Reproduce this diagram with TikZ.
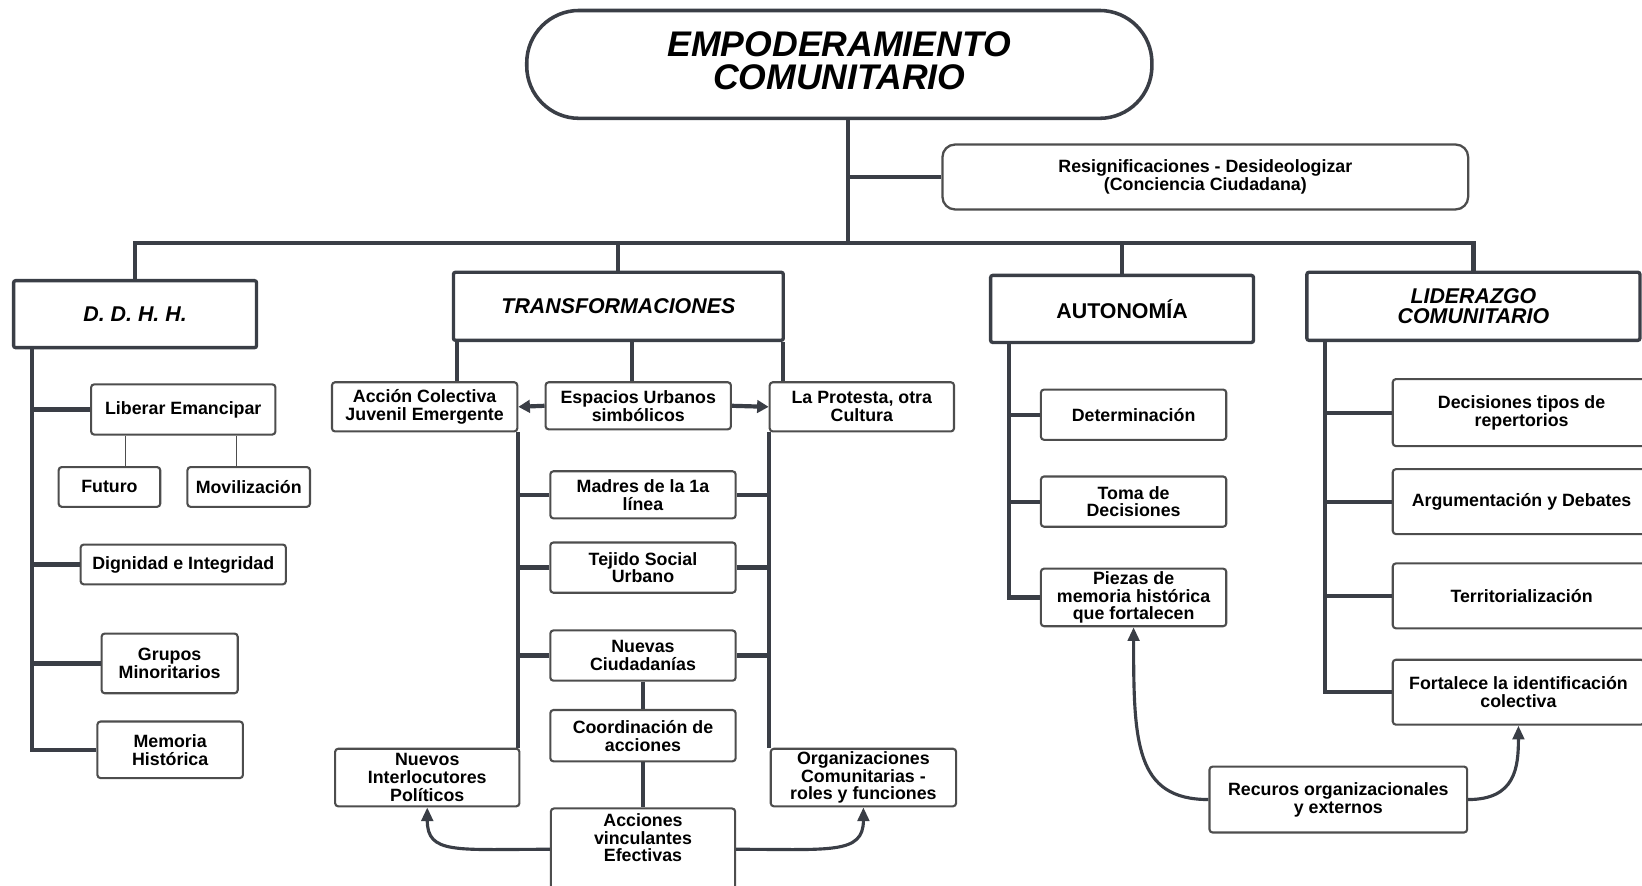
\documentclass[tikz,border=0pt]{standalone}
\usepackage{fontspec}
\setmainfont{Liberation Sans}
\usetikzlibrary{shapes,arrows,arrows.meta,positioning}
\definecolor{linecol}{HTML}{3A3E46}
\definecolor{boxcol}{HTML}{4D4D4D}
\newcommand{\leaffont}{\fontsize{8.5}{8.5}\selectfont\bfseries}
\newcommand{\headfont}{\fontsize{10.2}{9.6}\selectfont\bfseries}
\newcommand{\rootfont}{\fontsize{17}{16}\selectfont\bfseries\itshape}
\tikzstyle{rootbox} = [draw=linecol, line width=1.7pt, rounded corners=25pt, align=center, font=\rootfont, minimum width=298.5pt, minimum height=51.5pt]
\tikzstyle{notebox} = [draw=boxcol, line width=1.1pt, rounded corners=6pt, align=center, font=\leaffont, minimum width=251pt, minimum height=31pt]
\tikzstyle{headbox} = [draw=linecol, line width=1.6pt, rounded corners=1pt, align=center, font=\headfont, inner sep=0pt]
\tikzstyle{headit} = [headbox, font=\headfont\itshape]
\tikzstyle{leafbox} = [draw=boxcol, line width=1pt, rounded corners=1.5pt, align=center, font=\leaffont, inner sep=0pt]
\tikzstyle{link} = [draw=linecol, line width=2pt]
\tikzstyle{thinlink} = [draw=boxcol, line width=0.6pt]
\tikzstyle{tip} = [-{Triangle[length=5.5pt, width=6pt]}]
\tikzstyle{curvelink} = [draw=linecol, line width=1.5pt, -{Triangle[length=6.5pt, width=5.5pt]}]

\begin{document}
\begin{tikzpicture}[x=0.5pt, y=-0.5pt]
		\useasboundingbox (0,0) rectangle (1568,846);
		
		\node [rootbox] (root) at (801.5,61.5) {EMPODERAMIENTO\\COMUNITARIO\\[-17pt]\strut};
		\node [notebox] (resig) at (1151,169) {Resignificaciones - Desideologizar\\(Conciencia Ciudadana)};
		
		\node [headit, minimum width=116pt, minimum height=32pt] (ddhh) at (129,300) {D. D. H. H.};
		\node [headit, minimum width=157.5pt, minimum height=32.5pt] (transf) at (590.5,292.5) {TRANSFORMACIONES};
		\node [headbox, minimum width=125.5pt, minimum height=32pt] (auto) at (1071.5,295) {AUTONOMÍA};
		\node [headit, minimum width=159pt, minimum height=32.5pt] (lider) at (1407,292.5) {LIDERAZGO\\COMUNITARIO};
		
		\node [leafbox, minimum width=88pt, minimum height=24pt] (liber) at (175,391) {Liberar Emancipar};
		\node [leafbox, minimum width=48.5pt, minimum height=19pt] (futuro) at (104.5,465) {Futuro};
		\node [leafbox, minimum width=58.5pt, minimum height=19pt, right of=futuro, node distance=66.5pt] (movil) {Movilización};
		\node [leafbox, minimum width=98pt, minimum height=19pt] (dign) at (175,539) {Dignidad e Integridad};
		\node [leafbox, minimum width=65pt, minimum height=28.5pt] (grupos) at (162,633.5) {Grupos\\Minoritarios};
		\node [leafbox, minimum width=69.5pt, minimum height=27pt] (memoria) at (162.5,716) {Memoria\\Histórica};
		
		\node [leafbox, minimum width=88.5pt, minimum height=23.5pt] (accion) at (405.5,388.5) {Acción Colectiva\\Juvenil Emergente};
		\node [leafbox, minimum width=88.5pt, minimum height=22.5pt] (espacios) at (609.5,387.5) {Espacios Urbanos\\simbólicos};
		\node [leafbox, minimum width=88pt, minimum height=23.5pt] (protesta) at (823,388.5) {La Protesta, otra\\Cultura};
		\node [leafbox, minimum width=88.5pt, minimum height=22.5pt] (madres) at (614,472.5) {Madres de la 1a\\línea};
		\node [leafbox, minimum width=88.5pt, minimum height=24pt, below of=madres, node distance=34.75pt] (tejido) {Tejido Social\\Urbano};
		\node [leafbox, minimum width=88.5pt, minimum height=24pt, below of=tejido, node distance=42pt] (nuevas) {Nuevas\\Ciudadanías};
		\node [leafbox, minimum width=88.5pt, minimum height=24.5pt, below of=nuevas, node distance=38.25pt] (coord) {Coordinación de\\acciones};
		\node [leafbox, minimum width=88pt, minimum height=39pt] (acc) at (614,811) {Acciones\\vinculantes\\Efectivas\\\strut};
		\node [leafbox, minimum width=88pt, minimum height=27.5pt] (nuevosI) at (408,742.5) {Nuevos\\Interlocutores\\Políticos};
		\node [leafbox, minimum width=88.5pt, minimum height=27.5pt] (organiz) at (824.5,742.5) {Organizaciones\\Comunitarias -\\roles y funciones};
		
		\node [leafbox, minimum width=88.5pt, minimum height=24pt] (deter) at (1082.5,396) {Determinación};
		\node [leafbox, minimum width=88.5pt, minimum height=24pt, below of=deter, node distance=41.5pt] (toma) {Toma de\\Decisiones};
		\node [leafbox, minimum width=88.5pt, minimum height=27.5pt, below of=toma, node distance=45.75pt] (piezas) {Piezas de\\memoria histórica\\que fortalecen};
		
		\node [leafbox, minimum width=123pt, minimum height=32pt] (decis) at (1453,394) {Decisiones tipos de\\repertorios};
		\node [leafbox, minimum width=123pt, minimum height=31pt, below of=decis, node distance=42.5pt] (argum) {Argumentación y Debates};
		\node [leafbox, minimum width=123pt, minimum height=31pt, below of=argum, node distance=45pt] (territ) {Territorialización};
		\node [leafbox, minimum width=120pt, minimum height=31pt] (fortal) at (1450,661) {Fortalece la identificación\\colectiva};
		\node [leafbox, minimum width=123pt, minimum height=31.5pt] (recur) at (1278,763.5) {Recuros organizacionales\\y externos};
		
		
		\coordinate (hub) at (810,232);
		\draw [link] (hub |- root.south) -- (hub);
		\draw [link] (hub |- resig.west) -- (resig.west);
		\draw [link] (ddhh.north) -- (ddhh.north |- hub) -- (lider.north |- hub) -- (lider.north);
		\draw [link] (transf.north) -- (transf.north |- hub);
		\draw [link] (auto.north) -- (auto.north |- hub);
		
		\coordinate (dspine) at ([xshift=9.5pt]ddhh.south west);
		\draw [link] (dspine) |- (memoria.west);
		\foreach \n in {liber,dign,grupos}
			\draw [link] (\n.west) -- (\n.west -| dspine);
		\draw [thinlink] ([xshift=-27.5pt]liber.south) -- ([xshift=-27.5pt]liber.south |- futuro.north);
		\draw [thinlink] ([xshift=25.5pt]liber.south) -- ([xshift=25.5pt]liber.south |- movil.north);
		
		\draw [link] ([xshift=2.5pt]transf.south west) -- ([xshift=2.5pt]transf.south west |- accion.north);
		\draw [link] ([xshift=-3pt]espacios.north) -- ([xshift=-3pt]espacios.north |- transf.south);
		\draw [link] ([xshift=-1pt]transf.south east) -- ([xshift=-1pt]transf.south east |- protesta.north);
		\draw [link, tip] (espacios.west) -- (accion.east);
		\draw [link, tip] (espacios.east) -- (protesta.west);
		\draw [link] (accion.south east) -- (accion.south east |- nuevosI.north);
		\draw [link] (protesta.south west) -- (protesta.south west |- organiz.north);
		\foreach \n in {madres,tejido,nuevas} {
			\draw [link] (\n.west) -- (\n.west -| accion.east);
			\draw [link] (\n.east) -- (\n.east -| protesta.west);
		}
		\draw [link] (nuevas) -- (coord);
		\draw [link] (coord) -- (acc);
		\draw [curvelink] (acc.west) .. controls +(-90,0) and +(0,45) .. (nuevosI.south);
		\draw [curvelink] (acc.east) .. controls +(90,0) and +(0,45) .. (organiz.south);
		
		\coordinate (aspine) at ([xshift=9.5pt]auto.south west);
		\draw [link] (aspine) |- (piezas.west);
		\foreach \n in {deter,toma}
			\draw [link] (\n.west) -- (\n.west -| aspine);
		
		\coordinate (lspine) at ([xshift=9.5pt]lider.south west);
		\draw [link] (lspine) |- (fortal.west);
		\foreach \n in {decis,argum,territ}
			\draw [link] (\n.west) -- (\n.west -| lspine);
		\draw [curvelink] (recur.west) .. controls +(-70,0) and +(0,110) .. (piezas.south);
		\draw [curvelink] (recur.east) .. controls +(45,0) and +(0,40) .. (fortal.south);
		
		\end{tikzpicture}
\end{document}
